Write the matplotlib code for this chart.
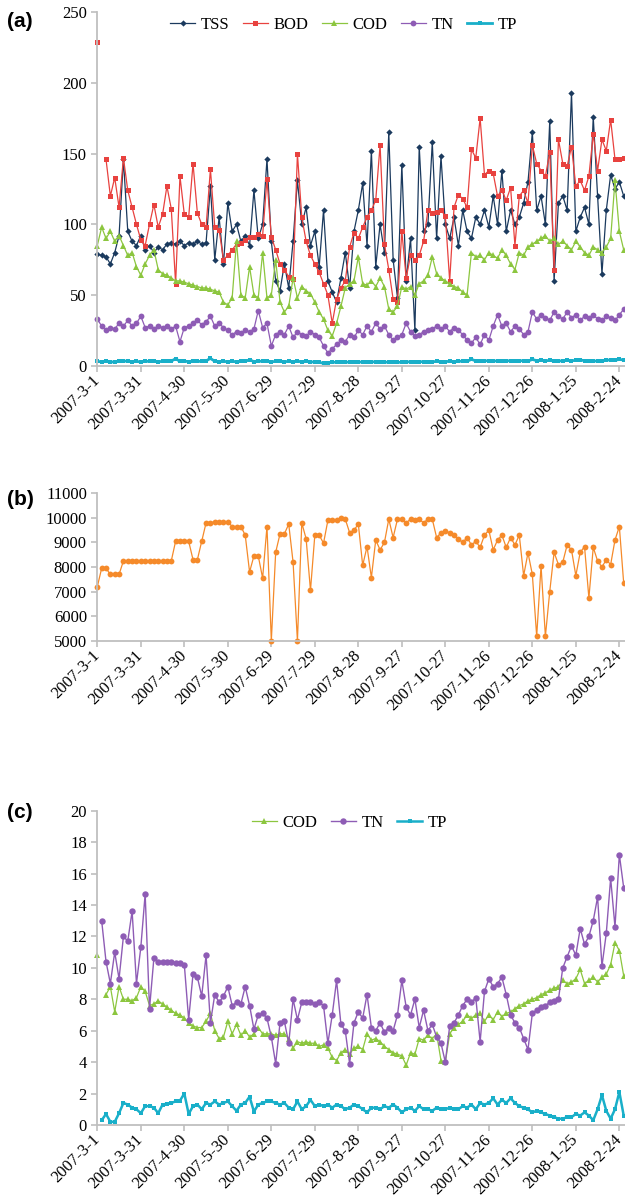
import matplotlib
matplotlib.use("Agg")
import matplotlib.pyplot as plt
import numpy as np

plt.rcParams['font.family'] = 'serif'
plt.rcParams['font.serif'] = ['Liberation Serif', 'DejaVu Serif']

nan = np.nan
step_days = 3  # one reading every third day from 2007-3-1

tick_labels = ["2007-3-1", "2007-3-31", "2007-4-30", "2007-5-30", "2007-6-29",
               "2007-7-29", "2007-8-28", "2007-9-27", "2007-10-27", "2007-11-26",
               "2007-12-26", "2008-1-25", "2008-2-24"]

# ---- panel (a): influent concentrations (mg/L)
tss = [79, 78, 77, 72, 80, 92, 146, 95, 88, 85,
       92, 82, 85, 80, 84, 82, 86, 87, 86, 88,
       85, 87, 86, 88, 86, 87, 127, 75, 105, 72,
       115, 95, 100, 88, 92, 85, 124, 90, 100, 146,
       88, 60, 53, 72, 55, 88, 131, 100, 112, 85,
       95, 70, 110, 60, 52, 45, 62, 80, 55, 95,
       110, 129, 85, 152, 70, 100, 80, 165, 75, 48,
       142, 60, 90, 25, 155, 95, 100, 158, 90, 148,
       100, 90, 105, 85, 110, 95, 90, 105, 100, 110,
       98, 120, 100, 138, 95, 110, 100, 105, 115, 130,
       165, 110, 120, 100, 173, 60, 115, 120, 110, 193,
       95, 105, 112, 100, 176, 120, 65, 110, 135, 125,
       130, 120]
bod = [229, nan, 146, 120, 133, 112, 147, 124, 112, 100,
       89, 85, 100, 114, 98, 107, 127, 111, 58, 134,
       107, 105, 143, 108, 100, 98, 139, 98, 96, 75,
       78, 82, 86, 87, 89, 91, 91, 93, 92, 132,
       91, 82, 72, 68, 63, 61, 150, 105, 88, 78,
       72, 66, 58, 50, 30, 47, 55, 60, 84, 94,
       90, 98, 105, 110, 117, 156, 86, 68, 47, 45,
       95, 62, 78, 75, 78, 88, 110, 108, 109, 110,
       106, 60, 112, 121, 118, 112, 153, 147, 175, 135,
       138, 136, 120, 124, 117, 126, 85, 120, 124, 115,
       156, 143, 138, 134, 151, 68, 160, 143, 141, 155,
       127, 131, 124, 134, 164, 138, 160, 152, 174, 146,
       146, 147]
cod = [85, 98, 90, 95, 88, 92, 85, 78, 80, 70,
       64, 72, 78, 82, 68, 65, 64, 62, 60, 60,
       59, 58, 57, 56, 55, 55, 54, 53, 52, 45,
       43, 48, 88, 50, 48, 70, 50, 48, 80, 48,
       50, 75, 45, 38, 42, 62, 48, 56, 53, 51,
       45, 38, 33, 25, 21, 30, 42, 55, 58, 60,
       77, 58, 57, 60, 56, 62, 56, 40, 38, 42,
       56, 54, 56, 50, 58, 60, 64, 77, 65, 62,
       60, 58, 56, 55, 52, 50, 80, 77, 78, 75,
       80, 78, 76, 82, 78, 72, 68, 80, 78, 84,
       86, 88, 90, 92, 88, 90, 86, 88, 85, 82,
       88, 84, 80, 78, 84, 82, 80, 84, 90, 131,
       95, 82]
tn = [33, 28, 25, 27, 26, 30, 28, 32, 28, 30,
      35, 27, 28, 26, 28, 27, 28, 26, 28, 17,
      27, 28, 30, 32, 29, 31, 35, 28, 30, 27,
      25, 22, 24, 23, 25, 24, 26, 39, 27, 30,
      14, 22, 24, 22, 28, 20, 24, 22, 21, 24,
      22, 20, 14, 9, 12, 15, 18, 17, 22, 20,
      25, 22, 28, 24, 30, 26, 28, 22, 18, 20,
      22, 30, 24, 21, 22, 24, 25, 26, 28, 26,
      28, 24, 27, 25, 22, 18, 16, 20, 15, 22,
      18, 28, 36, 28, 30, 24, 28, 26, 22, 24,
      38, 33, 36, 34, 32, 38, 35, 33, 38, 34,
      36, 32, 35, 34, 36, 33, 32, 35, 34, 32,
      36, 40]
tp = [3.0, 2.8, 3.2, 2.5, 2.8, 3.0, 3.4, 3.1, 2.9, 3.0,
      2.7, 3.2, 3.0, 3.3, 2.8, 3.1, 3.4, 3.2, 5.0, 3.0,
      3.2, 2.9, 3.3, 3.1, 3.0, 3.4, 5.2, 3.1, 2.8, 3.0,
      2.9, 3.2, 2.7, 3.0, 3.1, 4.2, 2.9, 3.3, 3.0, 3.1,
      2.8, 3.0, 3.2, 2.9, 3.0, 2.7, 3.3, 2.6, 3.0, 2.8,
      2.5, 2.3, 1.8, 2.2, 2.5, 2.4, 2.6, 2.3, 2.7, 2.5,
      2.8, 2.4, 2.6, 2.9, 2.5, 2.7, 2.4, 2.6, 2.8, 2.5,
      2.3, 2.6, 2.8, 2.5, 2.7, 2.9, 2.6, 2.8, 3.0, 2.7,
      2.9, 3.1, 2.8, 3.0, 3.3, 3.1, 4.5, 3.4, 3.2, 3.6,
      3.3, 3.5, 3.2, 3.4, 3.6, 3.3, 3.1, 3.4, 3.6, 3.3,
      4.4, 3.6, 3.8, 3.5, 3.7, 3.4, 3.2, 3.6, 3.9, 3.5,
      3.8, 4.0, 3.6, 3.4, 3.1, 3.5, 3.3, 3.8, 4.2, 3.9,
      4.4, 4.1]

# ---- panel (b): flow
flow = [7200, 7950, 7950, 7700, 7700, 7700, 8250, 8250, 8250, 8250,
        8250, 8250, 8250, 8250, 8250, 8250, 8250, 8250, 9050, 9050,
        9050, 9050, 8300, 8300, 9050, 9800, 9800, 9850, 9850, 9850,
        9850, 9650, 9650, 9650, 9300, 7800, 8450, 8450, 7550, 9650,
        5000, 8600, 9350, 9350, 9750, 8200, 5000, 9800, 9150, 7050,
        9300, 9300, 8970, 9900, 9900, 9900, 10000, 9950, 9400, 9500,
        9750, 8070, 8830, 7570, 9100, 8700, 9000, 9950, 9200, 9950,
        9950, 9800, 9950, 9900, 9950, 9800, 9950, 9950, 9200, 9400,
        9450, 9400, 9300, 9150, 9000, 9200, 8900, 9050, 8800, 9300,
        9500, 8700, 9100, 9300, 8800, 9200, 8900, 9300, 7650, 8580,
        7700, 5180, 8050, 5180, 7000, 8600, 8100, 8200, 8900, 8700,
        7650, 8600, 8830, 6740, 8800, 8250, 8000, 8300, 8100, 9100,
        9650, 7340]

# ---- panel (c)
cod_c = [10.8, nan, 8.3, 8.8, 7.2, 8.8, 8.0, 8.0, 7.9, 8.1,
         8.8, 8.5, 7.6, 7.7, 7.9, 7.7, 7.5, 7.3, 7.1, 7.0,
         6.8, 6.5, 6.3, 6.2, 6.2, 6.6, 7.1, 6.0, 5.5, 5.6,
         6.6, 5.8, 6.4, 5.7, 6.0, 5.6, 5.8, 6.2, 5.8, 5.8,
         5.8, 5.7, 5.8, 5.8, 5.5, 4.9, 5.3, 5.2, 5.3, 5.2,
         5.2, 5.0, 5.1, 4.9, 4.3, 4.1, 4.6, 4.8, 4.5, 4.9,
         5.0, 4.8, 5.8, 5.4, 5.5, 5.3, 5.0, 4.8, 4.6, 4.5,
         4.4, 3.8, 4.6, 4.5, 5.5, 5.4, 5.7, 5.5, 5.8, 4.1,
         4.0, 5.8, 6.2, 6.4, 6.6, 7.0, 6.8, 7.0, 7.1, 6.6,
         7.0, 6.7, 7.2, 6.9, 7.1, 7.2, 7.4, 7.6, 7.7, 7.9,
         8.0, 8.1, 8.3, 8.4, 8.6, 8.7, 8.8, 9.2, 9.0, 9.1,
         9.3, 9.9, 9.0, 9.2, 9.4, 9.1, 9.4, 9.6, 10.2, 11.6,
         11.1, 9.5]
tn_c = [nan, 13.0, 10.4, 9.0, 11.0, 9.3, 12.0, 11.7, 13.6, 9.0,
        11.3, 14.7, 7.4, 10.6, 10.4, 10.4, 10.4, 10.4, 10.3, 10.3,
        10.2, 6.7, 9.6, 9.4, 8.2, 10.8, 6.5, 8.3, 7.8, 8.2,
        8.8, 7.6, 7.8, 7.7, 8.8, 7.6, 6.1, 7.0, 7.1, 6.8,
        5.6, 3.9, 6.5, 6.6, 5.2, 8.0, 6.7, 7.8, 7.8, 7.8,
        7.7, 7.8, 7.6, 5.2, 7.0, 9.2, 6.4, 6.0, 3.9, 6.5,
        7.2, 6.8, 8.3, 6.2, 6.0, 6.5, 5.9, 6.2, 6.0, 7.0,
        9.2, 7.5, 7.0, 8.0, 6.2, 7.3, 6.0, 6.4, 5.6, 5.2,
        4.0, 6.3, 6.5, 7.0, 7.6, 8.0, 7.8, 8.1, 5.3, 8.5,
        9.3, 8.8, 9.0, 9.4, 8.3, 7.0, 6.5, 6.2, 5.5, 4.8,
        7.1, 7.3, 7.5, 7.6, 7.8, 7.9, 8.0, 10.0, 10.7, 11.4,
        10.8, 12.5, 11.5, 12.0, 13.0, 14.5, 10.1, 12.2, 15.7, 12.6,
        17.2, 15.1]
tp_c = [nan, 0.3, 0.7, 0.2, 0.2, 0.75, 1.4, 1.3, 1.1, 1.0,
        0.75, 1.2, 1.2, 1.1, 0.75, 1.3, 1.35, 1.4, 1.5, 1.55,
        2.0, 0.7, 1.2, 1.3, 1.0, 1.4, 1.3, 1.5, 1.3, 1.4,
        1.5, 1.2, 0.9, 1.3, 1.4, 1.8, 0.85, 1.3, 1.4, 1.5,
        1.5, 1.4, 1.3, 1.4, 1.1, 1.0, 1.5, 1.0, 1.2, 1.6,
        1.2, 1.3, 1.2, 1.3, 1.1, 1.3, 1.2, 1.0, 1.1, 1.3,
        1.2, 1.0, 0.8, 1.1, 1.1, 1.0, 1.2, 1.1, 1.3, 1.1,
        0.8, 1.0, 1.1, 0.9, 1.2, 1.0, 1.0, 0.9, 1.1, 1.0,
        1.0, 1.1, 1.0, 1.0, 1.2, 1.1, 1.3, 1.0, 1.4, 1.3,
        1.4, 1.7, 1.3, 1.6, 1.4, 1.7, 1.4, 1.2, 1.1, 1.0,
        0.8, 0.9, 0.8, 0.7, 0.6, 0.5, 0.4, 0.4, 0.5, 0.5,
        0.7, 0.6, 0.8, 0.6, 0.3, 1.0, 1.9, 0.9, 0.4, 1.0,
        2.1, 0.6]

c_tss = '#1B3A5E'
c_bod = '#E8423F'
c_cod = '#8CC63F'
c_tn = '#8E5CB5'
c_tp = '#19AFC9'
c_flow = '#F58A2A'
c_axis = '#BFBFBF'


def days_of(vals):
    return np.arange(len(vals)) * step_days


def style_axis(ax, ylim, yticks):
    ax.set_xlim(0, 363.9)
    ax.set_ylim(*ylim)
    ax.set_yticks(yticks)
    ax.set_xticks(np.arange(len(tick_labels)) * 30)
    ax.set_xticklabels(tick_labels, rotation=45, ha='right', va='center',
                       rotation_mode='anchor')
    for s in ['top', 'right']:
        ax.spines[s].set_visible(False)
    for s in ['left', 'bottom']:
        ax.spines[s].set_color(c_axis)
        ax.spines[s].set_linewidth(1.3)
    ax.tick_params(axis='both', colors=c_axis, labelcolor='black',
                   labelsize=12, length=4, width=1.2, direction='out')
    ax.tick_params(axis='x', pad=5)


def draw(ax, vals, color, marker, ms, lw=0.9, label=None):
    ax.plot(days_of(vals), vals, color=color, marker=marker, markersize=ms,
            markeredgewidth=0, linewidth=lw, label=label, clip_on=False)


fig = plt.figure(figsize=(6.25, 12.01), dpi=100)

ax_a = fig.add_axes([0.1557, 0.6955, 0.8443, 0.2943])
draw(ax_a, tss, c_tss, 'D', 3.2, label='TSS')
draw(ax_a, bod, c_bod, 's', 3.6, label='BOD')
draw(ax_a, cod, c_cod, '^', 3.8, label='COD')
draw(ax_a, tn, c_tn, 'o', 4.2, label='TN')
draw(ax_a, tp, c_tp, 's', 2.6, lw=2.0, label='TP')
style_axis(ax_a, (0, 250), np.arange(0, 251, 50))
ax_a.legend(loc='center', bbox_to_anchor=(0.467, 0.964), ncol=5, frameon=False,
            fontsize=12, handlelength=1.5, handletextpad=0.35, columnspacing=0.8,
            borderaxespad=0)

ax_b = fig.add_axes([0.1557, 0.4665, 0.8443, 0.1227])
draw(ax_b, flow, c_flow, 'o', 4.2)
style_axis(ax_b, (5000, 11000), np.arange(5000, 11001, 1000))

ax_c = fig.add_axes([0.1557, 0.0633, 0.8443, 0.2617])
draw(ax_c, cod_c, c_cod, '^', 3.8, label='COD')
draw(ax_c, tn_c, c_tn, 'o', 4.6, lw=1.0, label='TN')
draw(ax_c, tp_c, c_tp, 's', 3.0, lw=1.8, label='TP')
style_axis(ax_c, (0, 20), np.arange(0, 21, 2))
ax_c.legend(loc='center', bbox_to_anchor=(0.478, 0.961), ncol=3, frameon=False,
            fontsize=12, handlelength=1.5, handletextpad=0.35, columnspacing=0.8,
            borderaxespad=0)

for txt, y in [('(a)', 0.9817), ('(b)', 0.5845), ('(c)', 0.3231)]:
    fig.text(0.011, y, txt, ha='left', va='center', fontsize=15,
             fontweight='bold', family=['Liberation Sans', 'DejaVu Sans'])

fig.savefig('out.png', dpi=100)
